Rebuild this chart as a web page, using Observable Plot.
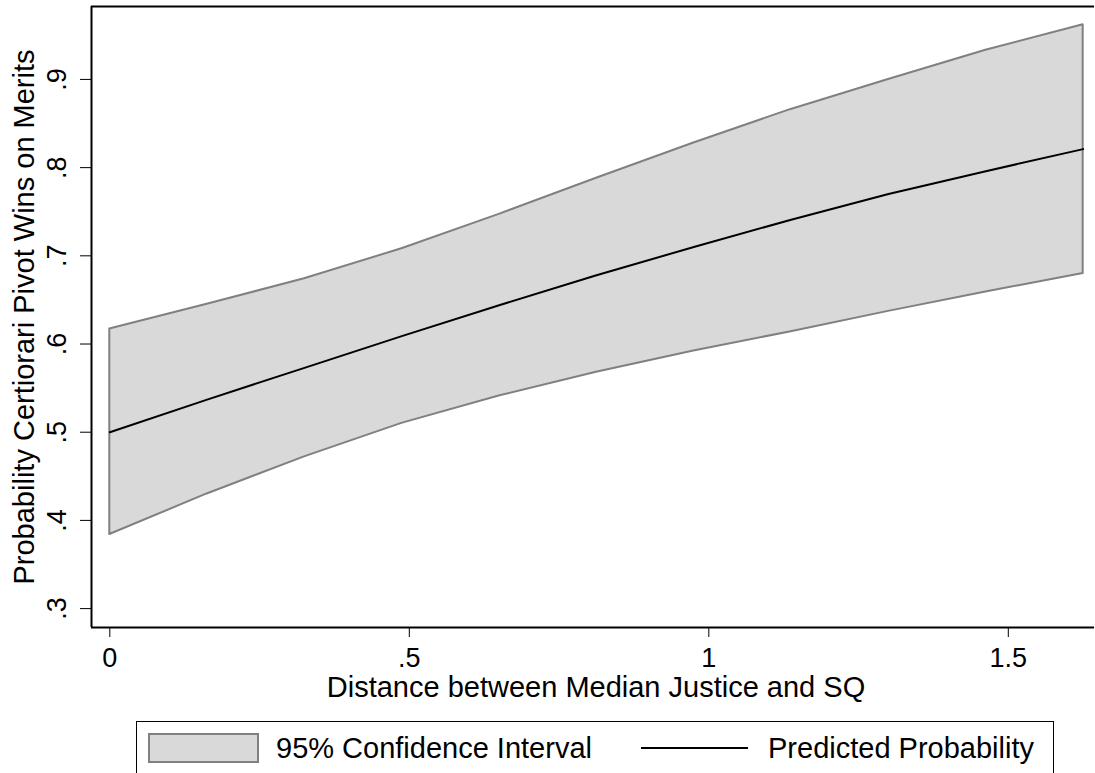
<!DOCTYPE html>
<html>
<head>
<meta charset="utf-8">
<script src="https://cdn.jsdelivr.net/npm/d3@7"></script>
<script src="https://cdn.jsdelivr.net/npm/@observablehq/plot@0.6"></script>
<style>
  html, body { margin: 0; padding: 0; background: #fff; overflow: hidden; width: 1095px; height: 773px; }
  #wrap { position: relative; width: 1095px; height: 773px; font-family: "Liberation Sans", Arial, Helvetica, sans-serif; }
  #chart { position: absolute; left: 0; top: 0; }
  #legend { position: absolute; left: 136px; top: 721px; width: 918px; height: 60px; border: 1px solid #000; box-sizing: border-box; background: #fff; }
  .sw { position: absolute; left: 11px; top: 11px; width: 111px; height: 30px; background: #d9d9d9; border: 2px solid #808080; box-sizing: border-box; }
  .ln { position: absolute; left: 504px; top: 25px; width: 107px; height: 0; border-top: 2px solid #000; }
  .lt { position: absolute; top: 10px; font-size: 29px; line-height: 32px; color: #000; white-space: nowrap; }
</style>
</head>
<body>
<div id="wrap">
  <div id="chart"></div>
  <div id="legend">
    <div class="sw"></div>
    <div class="lt" style="left:139px">95% Confidence Interval</div>
    <div class="ln"></div>
    <div class="lt" style="left:631px">Predicted Probability</div>
  </div>
</div>
<script>
// Distance between Median Justice and SQ
const xValues = [0, 0.1625, 0.325, 0.4875, 0.65, 0.8125, 0.975, 1.1375, 1.3, 1.4625, 1.625];
// Predicted probability
const predicted = [0.500, 0.537, 0.573, 0.609, 0.644, 0.678, 0.710, 0.741, 0.770, 0.796, 0.821];
// 95% confidence interval bounds
const lowerCI = [0.384, 0.430, 0.472, 0.510, 0.541, 0.568, 0.592, 0.614, 0.637, 0.659, 0.680];
const upperCI = [0.617, 0.645, 0.674, 0.708, 0.747, 0.788, 0.828, 0.866, 0.900, 0.933, 0.962];

const xTicks = [0, 0.5, 1, 1.5];
const xTickLabels = ["0", ".5", "1", "1.5"];
const yTicks = [0.3, 0.4, 0.5, 0.6, 0.7, 0.8, 0.9];
const yTickLabels = [".3", ".4", ".5", ".6", ".7", ".8", ".9"];

const xTitle = "Distance between Median Justice and SQ";
const yTitle = "Probability Certiorari Pivot Wins on Merits";

const xDomain = [-0.03055, 1.6439];
const yDomain = [0.27857, 0.98270];

const data = xValues.map((x, i) => ({x, lo: lowerCI[i], hi: upperCI[i], p: predicted[i]}));

const chart = Plot.plot({
  width: 1095,
  height: 715,
  marginLeft: 91,
  marginRight: 1,
  marginTop: 6,
  marginBottom: 88,
  style: {fontFamily: "'Liberation Sans', Arial, Helvetica, sans-serif", background: "#fff", color: "#000"},
  x: {domain: xDomain},
  y: {domain: yDomain},
  marks: [
    Plot.areaY(data, {x: "x", y1: "lo", y2: "hi", fill: "#d9d9d9", fillOpacity: 1, stroke: "#808080", strokeWidth: 2}),
    Plot.lineY(data, {x: "x", y: "p", stroke: "#000", strokeWidth: 2}),
    Plot.ruleX([xDomain[0]], {stroke: "#000", strokeWidth: 2}),
    Plot.ruleY([yDomain[0], yDomain[1]], {stroke: "#000", strokeWidth: 2}),
    Plot.axisX({
      ticks: xTicks,
      tickFormat: d => xTickLabels[xTicks.indexOf(d)],
      tickSize: 10, tickPadding: 10, fontSize: 27, strokeWidth: 1, label: null
    }),
    Plot.axisY({
      ticks: yTicks,
      tickFormat: d => yTickLabels[yTicks.indexOf(d)],
      tickSize: 11, tickPadding: 15, fontSize: 27, strokeWidth: 1, label: null,
      tickRotate: -90, textAnchor: "middle", lineAnchor: "bottom"
    }),
    Plot.text([xTitle], {text: d => d, frameAnchor: "bottom", lineAnchor: "bottom", dx: 3, dy: 69, fontSize: 29}),
    Plot.text([yTitle], {text: d => d, frameAnchor: "left", rotate: -90, textAnchor: "middle", lineAnchor: "bottom", dx: -57.7, fontSize: 29})
  ]
});
document.getElementById("chart").appendChild(chart);
</script>
</body>
</html>
